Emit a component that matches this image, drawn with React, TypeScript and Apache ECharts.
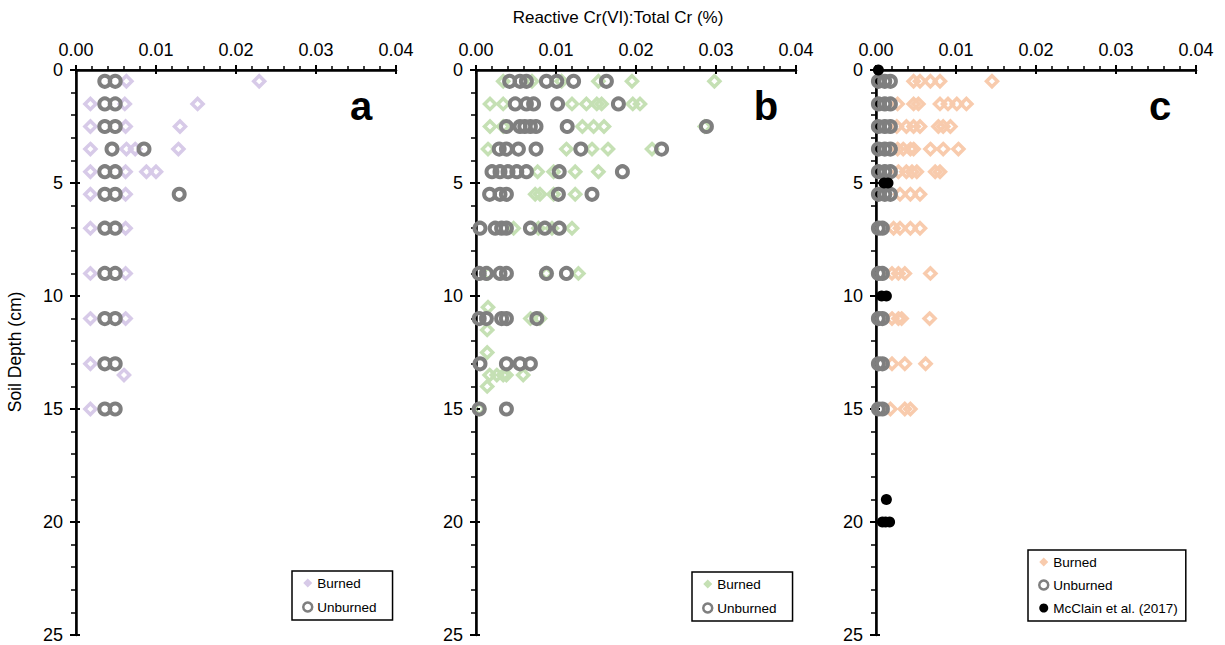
import React, { useEffect, useRef } from "react";
import * as echarts from "echarts";

const FONT = "'Liberation Sans', Arial, Helvetica, sans-serif";

const xTickLabels = ["0.00", "0.01", "0.02", "0.03", "0.04"];
const yTickLabels = ["0", "5", "10", "15", "20", "25"];
const panelLetters = ["a", "b", "c"];
const xTitle = "Reactive Cr(VI):Total Cr (%)";
const yTitle = "Soil Depth (cm)";

// [ratio %, depth cm]
const burnedA = [
  [0.0063, 0.5], [0.0229, 0.5],
  [0.0018, 1.5], [0.0061, 1.5], [0.0152, 1.5],
  [0.0018, 2.5], [0.0062, 2.5], [0.013, 2.5],
  [0.0018, 3.5], [0.0063, 3.5], [0.0074, 3.5], [0.0128, 3.5],
  [0.0018, 4.5], [0.0062, 4.5], [0.0088, 4.5], [0.01, 4.5],
  [0.0018, 5.5], [0.0062, 5.5],
  [0.0018, 7], [0.0062, 7],
  [0.0018, 9], [0.0062, 9],
  [0.0018, 11], [0.0062, 11],
  [0.0018, 13], [0.006, 13.5],
  [0.0018, 15],
];
const unburnedA = [
  [0.0036, 0.5], [0.0049, 0.5],
  [0.0036, 1.5], [0.0049, 1.5],
  [0.0036, 2.5], [0.0049, 2.5],
  [0.0045, 3.5], [0.0085, 3.5],
  [0.0036, 4.5], [0.0049, 4.5],
  [0.0036, 5.5], [0.0049, 5.5], [0.0129, 5.5],
  [0.0036, 7], [0.0049, 7],
  [0.0036, 9], [0.0049, 9],
  [0.0036, 11], [0.0049, 11],
  [0.0036, 13], [0.0049, 13],
  [0.0036, 15], [0.0049, 15],
];

const burnedB = [
  [0.0034, 0.5], [0.007, 0.5], [0.0107, 0.5], [0.0153, 0.5], [0.0195, 0.5], [0.0298, 0.5],
  [0.00175, 1.5], [0.0034, 1.5], [0.012, 1.5], [0.0138, 1.5], [0.0151, 1.5], [0.0157, 1.5], [0.0196, 1.5], [0.0205, 1.5],
  [0.00175, 2.5], [0.0034, 2.5], [0.0133, 2.5], [0.0147, 2.5], [0.016, 2.5], [0.0286, 2.5],
  [0.0015, 3.5], [0.0113, 3.5], [0.0145, 3.5], [0.0165, 3.5], [0.022, 3.5],
  [0.0077, 4.5], [0.0097, 4.5], [0.0124, 4.5], [0.0153, 4.5],
  [0.0074, 5.5], [0.008, 5.5], [0.0097, 5.5], [0.0124, 5.5],
  [0.0047, 7], [0.0078, 7], [0.0095, 7], [0.012, 7],
  [0.0015, 9], [0.0088, 9], [0.0128, 9],
  [0.0015, 10.5],
  [0.0068, 11], [0.008, 11],
  [0.0014, 11.5],
  [0.0014, 12.5],
  [0.0017, 13.5], [0.0026, 13.5], [0.0034, 13.5], [0.0038, 13.5], [0.0059, 13.5],
  [0.0014, 14],
  [0.0004, 15],
];
const unburnedB = [
  [0.0042, 0.5], [0.0055, 0.5], [0.0063, 0.5], [0.0088, 0.5], [0.0101, 0.5], [0.0122, 0.5], [0.0163, 0.5],
  [0.0049, 1.5], [0.0063, 1.5], [0.0072, 1.5], [0.0102, 1.5], [0.0178, 1.5],
  [0.0038, 2.5], [0.0055, 2.5], [0.0061, 2.5], [0.0068, 2.5], [0.0075, 2.5], [0.0114, 2.5], [0.0288, 2.5],
  [0.0029, 3.5], [0.0038, 3.5], [0.0053, 3.5], [0.0075, 3.5], [0.0131, 3.5], [0.0232, 3.5],
  [0.002, 4.5], [0.003, 4.5], [0.004, 4.5], [0.0051, 4.5], [0.0063, 4.5], [0.0104, 4.5], [0.0183, 4.5],
  [0.0017, 5.5], [0.003, 5.5], [0.0038, 5.5], [0.0103, 5.5], [0.0145, 5.5],
  [0.0005, 7], [0.0024, 7], [0.0032, 7], [0.0038, 7], [0.0068, 7], [0.0086, 7], [0.0104, 7],
  [0.0004, 9], [0.0013, 9], [0.003, 9], [0.0038, 9], [0.0088, 9], [0.0113, 9],
  [0.0004, 11], [0.0013, 11], [0.0032, 11], [0.0038, 11], [0.0076, 11],
  [0.0005, 13], [0.0038, 13], [0.0055, 13], [0.0068, 13],
  [0.0004, 15], [0.0038, 15],
];

const burnedC = [
  [0.0047, 0.5], [0.0055, 0.5], [0.0068, 0.5], [0.008, 0.5], [0.0145, 0.5],
  [0.0027, 1.5], [0.0047, 1.5], [0.0053, 1.5], [0.008, 1.5], [0.009, 1.5], [0.0101, 1.5], [0.0113, 1.5],
  [0.0026, 2.5], [0.0038, 2.5], [0.0047, 2.5], [0.0055, 2.5], [0.0078, 2.5], [0.0084, 2.5], [0.0093, 2.5],
  [0.0027, 3.5], [0.0034, 3.5], [0.0043, 3.5], [0.0047, 3.5], [0.0068, 3.5], [0.0084, 3.5], [0.0103, 3.5],
  [0.0028, 4.5], [0.0038, 4.5], [0.0045, 4.5], [0.0051, 4.5], [0.0074, 4.5], [0.008, 4.5],
  [0.003, 5.5], [0.0043, 5.5], [0.0055, 5.5],
  [0.0022, 7], [0.003, 7], [0.0043, 7], [0.0055, 7],
  [0.002, 9], [0.0028, 9], [0.0036, 9], [0.0068, 9],
  [0.002, 11], [0.0028, 11], [0.0032, 11], [0.0067, 11],
  [0.002, 13], [0.0036, 13], [0.0062, 13],
  [0.0018, 15], [0.0036, 15], [0.0043, 15],
];
const unburnedC = [
  [0.0003, 0.5], [0.0011, 0.5], [0.0018, 0.5],
  [0.0003, 1.5], [0.0011, 1.5], [0.0018, 1.5],
  [0.0003, 2.5], [0.0011, 2.5], [0.0018, 2.5],
  [0.0003, 3.5], [0.0011, 3.5], [0.0018, 3.5],
  [0.0003, 4.5], [0.0011, 4.5], [0.0018, 4.5],
  [0.0003, 5.5], [0.0011, 5.5], [0.0018, 5.5],
  [0.0003, 7], [0.0008, 7],
  [0.0003, 9], [0.0008, 9],
  [0.0003, 11], [0.0008, 11],
  [0.0003, 13], [0.0008, 13],
  [0.0003, 15], [0.0008, 15],
];
const mcclain = [
  [0.0003, 0], [0.001, 5], [0.0015, 5], [0.0007, 10], [0.0013, 10],
  [0.0013, 19], [0.0008, 20], [0.0012, 20], [0.0017, 20],
];

const PURPLE = "#d7cae8";
const GREEN = "#c5e0b4";
const PEACH = "#f8cbad";
const GRAY = "#7f7f7f";

const gridLefts = [76, 476, 876];

export default function App() {
  const ref = useRef<HTMLDivElement>(null);
  useEffect(() => {
    if (!ref.current) return;
    const chart = echarts.init(ref.current, null, { renderer: "svg" });

    const grids: any[] = [];
    const xAxes: any[] = [];
    const yAxes: any[] = [];
    for (let i = 0; i < 3; i++) {
      grids.push({ left: gridLefts[i], top: 70, width: 320, height: 565, containLabel: false });
    }
    for (let i = 0; i < 3; i++) {
      grids.push({ left: gridLefts[i], top: 70, width: 320, height: 565, containLabel: false });
    }
    for (let i = 0; i < 3; i++) {
      xAxes.push({
        gridIndex: i, type: "value", position: "top", min: 0, max: 0.04, interval: 0.01,
        axisLine: { show: true, lineStyle: { color: "#000", width: 2.5 } },
        axisTick: { show: true, inside: false, length: 5, lineStyle: { color: "#000", width: 2 } },
        minorTick: { show: true, splitNumber: 5, length: 4, lineStyle: { color: "#000", width: 1.5 } },
        axisLabel: {
          fontSize: 18, color: "#000", fontFamily: FONT, margin: 11,
          formatter: (v: number) => xTickLabels[Math.round(v / 0.01)] ?? "",
        },
        splitLine: { show: false },
      });
      xAxes.push({
        gridIndex: i, type: "value", position: "bottom", min: 0, max: 0.04,
        axisLine: { show: true, lineStyle: { color: "#000", width: 1.5 } },
        axisTick: { show: false }, axisLabel: { show: false }, splitLine: { show: false },
      });
      yAxes.push({
        gridIndex: i, type: "value", position: "left", inverse: true, min: 0, max: 25, interval: 5,
        axisLine: { show: true, lineStyle: { color: "#000", width: 2.5 } },
        axisTick: { show: true, inside: false, length: 6, lineStyle: { color: "#000", width: 2 } },
        minorTick: { show: true, splitNumber: 5, length: 5, lineStyle: { color: "#000", width: 1.5 } },
        axisLabel: {
          fontSize: 18, color: "#000", fontFamily: FONT, margin: 13,
          formatter: (v: number) => yTickLabels[Math.round(v / 5)] ?? "",
        },
        splitLine: { show: false },
      });
      yAxes.push({
        gridIndex: i, type: "value", position: "right", inverse: true, min: 0, max: 25,
        axisLine: { show: true, lineStyle: { color: "#000", width: 1.5 } },
        axisTick: { show: false }, axisLabel: { show: false }, splitLine: { show: false },
      });
    }
    for (let i = 0; i < 3; i++) {
      xAxes.push({
        gridIndex: i + 3, type: "value", position: "top", min: 0, max: 0.04, interval: 0.01,
        axisLine: { show: false },
        axisTick: { show: true, inside: true, length: 4, lineStyle: { color: "#000", width: 2 } },
        axisLabel: { show: false }, splitLine: { show: false },
      });
      yAxes.push({
        gridIndex: i + 3, type: "value", position: "left", inverse: true, min: 0, max: 25, interval: 5,
        axisLine: { show: false },
        axisTick: { show: true, inside: true, length: 4, lineStyle: { color: "#000", width: 2 } },
        axisLabel: { show: false }, splitLine: { show: false },
      });
    }

    const diamond = (name: string, data: number[][], panel: number, color: string) => ({
      name, type: "scatter", xAxisIndex: panel * 2, yAxisIndex: panel * 2, data,
      symbol: "diamond", symbolSize: 11, z: 2,
      itemStyle: { color: "rgba(0,0,0,0)", borderColor: color, borderWidth: 3.5, opacity: 1 },
      emphasis: { disabled: true },
    });
    const ring = (name: string, data: number[][], panel: number) => ({
      name, type: "scatter", xAxisIndex: panel * 2, yAxisIndex: panel * 2, data,
      symbol: "circle", symbolSize: 11, z: 3,
      itemStyle: { color: "rgba(0,0,0,0)", borderColor: GRAY, borderWidth: 4, opacity: 1 },
      emphasis: { disabled: true },
    });

    const series: any[] = [
      diamond("Burned a", burnedA, 0, PURPLE),
      ring("Unburned a", unburnedA, 0),
      diamond("Burned b", burnedB, 1, GREEN),
      ring("Unburned b", unburnedB, 1),
      diamond("Burned c", burnedC, 2, PEACH),
      ring("Unburned c", unburnedC, 2),
      {
        name: "McClain et al. (2017)", type: "scatter", xAxisIndex: 4, yAxisIndex: 4, data: mcclain,
        symbol: "circle", symbolSize: 11, z: 4, itemStyle: { color: "#000", opacity: 1 },
        emphasis: { disabled: true },
      },
    ];

    const legendBase = {
      orient: "vertical", selectedMode: false, backgroundColor: "#fff",
      borderColor: "#000", borderWidth: 1.5, borderRadius: 0,
      itemWidth: 9, itemHeight: 9, itemGap: 10, itemTextGap: 2,
      textStyle: { fontSize: 13.5, color: "#000", fontFamily: FONT, lineHeight: 14 },
      formatter: (n: string) => n.replace(/ [abc]$/, ""),
    };
    const legItem = (name: string, color: string, isRing: boolean) =>
      isRing
        ? { name, icon: "circle", itemStyle: { color: "#fff", borderColor: GRAY, borderWidth: 2.5, opacity: 1 } }
        : { name, icon: "diamond", itemStyle: { color, borderWidth: 0, opacity: 1 } };

    const option: any = {
      animation: false,
      backgroundColor: "#fff",
      grid: grids,
      xAxis: xAxes,
      yAxis: yAxes,
      series,
      legend: [
        { ...legendBase, left: 292, top: 571, padding: [5, 16, 6, 10],
          data: [legItem("Burned a", PURPLE, false), legItem("Unburned a", GRAY, true)] },
        { ...legendBase, left: 692, top: 572, padding: [5, 16, 6, 10],
          data: [legItem("Burned b", GREEN, false), legItem("Unburned b", GRAY, true)] },
        { ...legendBase, left: 1028, top: 550, itemGap: 9, padding: [5, 8, 6, 10],
          data: [
            legItem("Burned c", PEACH, false),
            legItem("Unburned c", GRAY, true),
            { name: "McClain et al. (2017)", icon: "circle", itemStyle: { color: "#000", borderWidth: 0, opacity: 1 } },
          ] },
      ],
      graphic: [
        { type: "text", x: 618, y: 17, style: { text: xTitle, fontSize: 17, fontFamily: FONT, fill: "#000", textAlign: "center", textVerticalAlign: "middle" } },
        { type: "text", x: 15, y: 352, rotation: Math.PI / 2, style: { text: yTitle, fontSize: 17.5, fontFamily: FONT, fill: "#000", textAlign: "center", textVerticalAlign: "middle" } },
        ...panelLetters.map((t, i) => ({
          type: "text", x: [361, 766, 1160][i], y: 106,
          style: { text: t, fontSize: 40, fontWeight: "bold", fontFamily: FONT, fill: "#000", textAlign: "center", textVerticalAlign: "middle" },
        })),
      ],
    };
    chart.setOption(option);
    return () => chart.dispose();
  }, []);
  return <div ref={ref} style={{ position: "fixed", left: 0, top: 0, width: 1225, height: 645, background: "#fff" }} />;
}
